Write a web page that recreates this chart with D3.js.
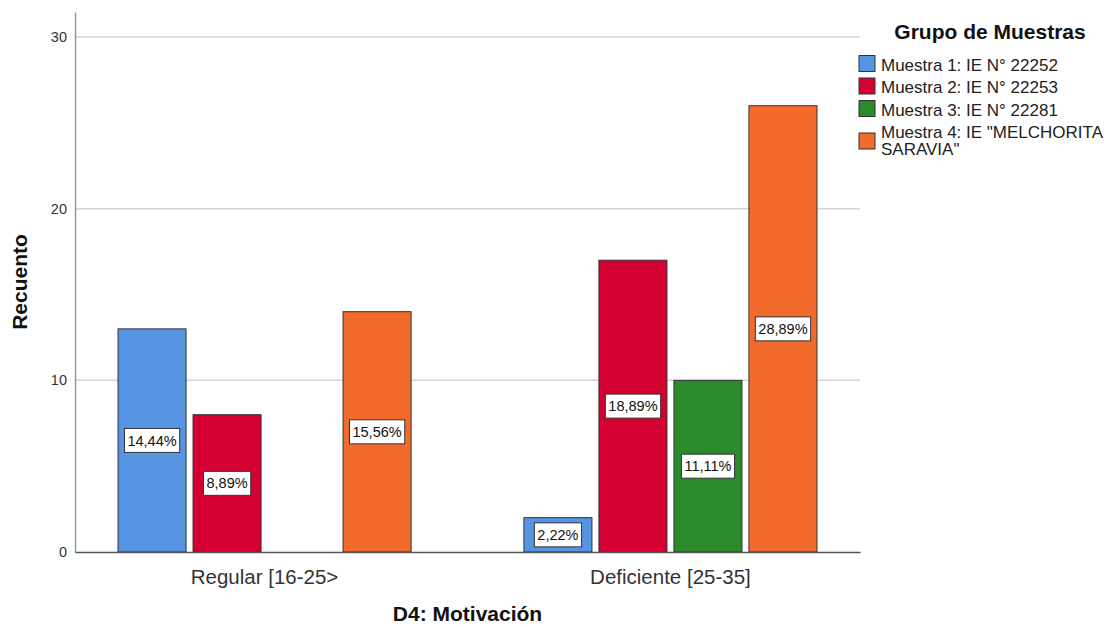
<!DOCTYPE html>
<html>
<head>
<meta charset="utf-8">
<script src="https://cdn.jsdelivr.net/npm/d3@7"></script>
<style>
  body { margin: 0; background: #fff; }
  text { font-family: Arial, "Liberation Sans", sans-serif; }
</style>
</head>
<body>
<div id="viz"></div>
<script>
// categories on the x axis and the four sample groups
const categories = ["Regular [16-25>", "Deficiente [25-35]"];
const series = ["Muestra 1: IE N° 22252", "Muestra 2: IE N° 22253", "Muestra 3: IE N° 22281", "Muestra 4: IE \"MELCHORITA SARAVIA\""];
const legendLines = [["Muestra 1: IE N° 22252"], ["Muestra 2: IE N° 22253"], ["Muestra 3: IE N° 22281"], ["Muestra 4: IE \"MELCHORITA", "SARAVIA\""]];
const colors = ["#5595e3", "#d50032", "#2b8a2b", "#f26a2c"];

// counts per category, one value per series (null = no bar)
const regularCounts = [13, 8, null, 14];
const deficienteCounts = [2, 17, 10, 26];
const regularLabels = ["14,44%", "8,89%", null, "15,56%"];
const deficienteLabels = ["2,22%", "18,89%", "11,11%", "28,89%"];
const yTicks = [0, 10, 20, 30];

const counts = [regularCounts, deficienteCounts];
const labels = [regularLabels, deficienteLabels];

const width = 1116, height = 627;
const mLeft = 75, mRight = 860, mTop = 12, mBottom = 552;

const svg = d3.select("#viz")
    .append("svg")
    .attr("width", width)
    .attr("height", height);

// scales
const x0 = d3.scaleBand()
    .domain(categories)
    .range([mLeft, mRight])
    .paddingInner(0.278)
    .paddingOuter(0.106);

const x1 = d3.scaleBand()
    .domain(d3.range(series.length))
    .range([0, x0.bandwidth()])
    .paddingInner(0.093)
    .paddingOuter(0);

const y = d3.scaleLinear()
    .domain([0, 31.46])
    .range([mBottom, mTop]);

// gridlines
svg.append("g")
    .selectAll("line")
    .data(yTicks.filter(d => d > 0))
    .join("line")
    .attr("x1", mLeft)
    .attr("x2", mRight)
    .attr("y1", d => y(d))
    .attr("y2", d => y(d))
    .attr("stroke", "#d4d4d4")
    .attr("stroke-width", 1.5);

// y axis
const yAxis = d3.axisLeft(y).tickValues(yTicks).tickSize(0).tickPadding(8);
const gy = svg.append("g")
    .attr("transform", `translate(${mLeft},0)`)
    .call(yAxis);
gy.select(".domain").attr("stroke", "#9a9a9a").attr("stroke-width", 1.5);
gy.selectAll("text").attr("font-size", 14.5).attr("fill", "#333");

// bars
const groups = svg.append("g")
    .selectAll("g")
    .data(categories)
    .join("g")
    .attr("transform", d => `translate(${x0(d)},0)`);

const barData = (c, ci) => counts[ci]
    .map((v, si) => ({ v, si, label: labels[ci][si] }))
    .filter(d => d.v !== null);

groups.selectAll("rect")
    .data((c, ci) => barData(c, ci))
    .join("rect")
    .attr("x", d => x1(d.si))
    .attr("y", d => y(d.v))
    .attr("width", x1.bandwidth())
    .attr("height", d => y(0) - y(d.v))
    .attr("fill", d => colors[d.si])
    .attr("stroke", "#333")
    .attr("stroke-width", 1);

// x axis
const xAxis = d3.axisBottom(x0).tickSize(0).tickPadding(17);
const gx = svg.append("g")
    .attr("transform", `translate(0,${mBottom})`)
    .call(xAxis);
gx.select(".domain").attr("stroke", "#555").attr("stroke-width", 1.5);
gx.selectAll("text").attr("font-size", 20.5).attr("fill", "#333");

// percentage labels in white boxes
const lab = groups.selectAll("g.lab")
    .data((c, ci) => barData(c, ci))
    .join("g")
    .attr("class", "lab")
    .attr("transform", d => `translate(${x1(d.si) + x1.bandwidth() / 2},${y(d.v / 2)})`);

lab.append("text")
    .attr("text-anchor", "middle")
    .attr("dy", "0.35em")
    .attr("font-size", 14.5)
    .attr("fill", "#111")
    .text(d => d.label)
    .each(function () {
        const b = this.getBBox();
        d3.select(this.parentNode).insert("rect", "text")
            .attr("x", b.x - 3)
            .attr("y", -12)
            .attr("width", b.width + 6)
            .attr("height", 24)
            .attr("fill", "#fff")
            .attr("stroke", "#333")
            .attr("stroke-width", 1);
    });

// axis titles
svg.append("text")
    .attr("x", (mLeft + mRight) / 2)
    .attr("y", 621)
    .attr("text-anchor", "middle")
    .attr("font-size", 21)
    .attr("font-weight", "bold")
    .attr("fill", "#111")
    .text("D4: Motivación");

svg.append("text")
    .attr("transform", `translate(27,${(mTop + mBottom) / 2}) rotate(-90)`)
    .attr("text-anchor", "middle")
    .attr("font-size", 21)
    .attr("font-weight", "bold")
    .attr("fill", "#111")
    .text("Recuento");

// legend
const legend = svg.append("g");
legend.append("text")
    .attr("x", 990)
    .attr("y", 39)
    .attr("text-anchor", "middle")
    .attr("font-size", 21)
    .attr("font-weight", "bold")
    .attr("fill", "#111")
    .text("Grupo de Muestras");

const legendY = [63.5, 86, 108.5, 141];
const items = legend.selectAll("g.item")
    .data(series)
    .join("g")
    .attr("class", "item")
    .attr("transform", (d, i) => `translate(859,${legendY[i]})`);

items.append("rect")
    .attr("x", 0)
    .attr("y", -8)
    .attr("width", 16)
    .attr("height", 16)
    .attr("fill", (d, i) => colors[i])
    .attr("stroke", "#333")
    .attr("stroke-width", 1);

items.append("text")
    .attr("font-size", 17)
    .attr("fill", "#222")
    .selectAll("tspan")
    .data((d, i) => legendLines[i].map((t, k, arr) => ({ t, k, n: arr.length })))
    .join("tspan")
    .attr("x", 22)
    .attr("y", d => d.n === 1 ? 7 : -3 + d.k * 17)
    .text(d => d.t);
</script>
</body>
</html>
